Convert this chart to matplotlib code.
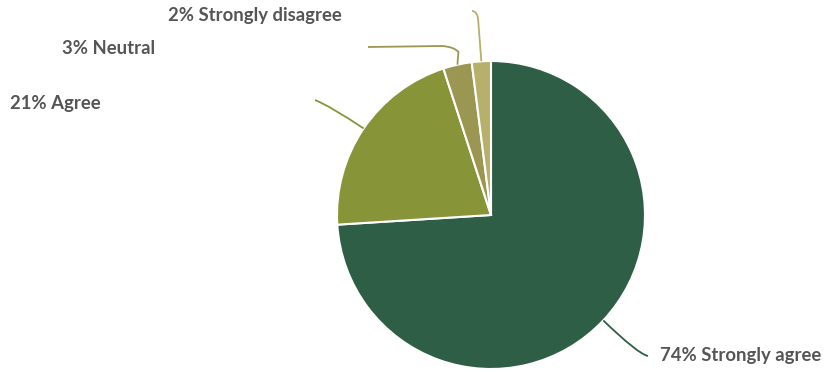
import numpy as np
import matplotlib.pyplot as plt
from matplotlib.path import Path
from matplotlib.patches import PathPatch

# Survey responses
labels = ['Strongly agree', 'Agree', 'Neutral', 'Strongly disagree']
shares = [74, 21, 3, 2]
colors = ['#2e5e46', '#889438', '#9b9651', '#b7b06b']

W, H = 825, 372
fig = plt.figure(figsize=(W / 100, H / 100), dpi=100)
ax = fig.add_axes([0, 0, 1, 1])

cx, cy, r = 491, H - 215, 154
wedges, _ = ax.pie(shares, colors=colors, startangle=90, counterclock=False,
                   center=(cx, cy), radius=r, frame=True,
                   wedgeprops=dict(edgecolor='white', linewidth=1.5))
ax.set_xlim(0, W)
ax.set_ylim(0, H)
ax.set_aspect('equal')
ax.axis('off')

# label layout: (knee, line end, text x, text y) in pixel coords (y down)
layout = [
    ((638, 354), (648, 356), 660, 356),
    ((330, 106), (315, 100), 10, 103),
    ((458, 47), (368, 47), 62, 48),
    ((478, 11), (472, 11), 168, 16),
]

for w, lab, val, col, (knee, end, tx, ty) in zip(wedges, labels, shares, colors, layout):
    mid = np.deg2rad((w.theta1 + w.theta2) / 2)
    sx, sy = cx + r * np.cos(mid), cy + r * np.sin(mid)
    kx, ky = knee[0], H - knee[1]
    ex, ey = end[0], H - end[1]
    if lab == 'Neutral':
        verts = [(sx, sy), (sx + 1, H - 52), (sx - 3, ky), (sx - 15, ky + 1), (ex, ey)]
        codes = [Path.MOVETO, Path.LINETO, Path.CURVE3, Path.CURVE3, Path.LINETO]
    elif lab == 'Strongly disagree':
        verts = [(sx, sy), (sx - 3, H - 22), (kx, ky), (ex, ey)]
        codes = [Path.MOVETO, Path.LINETO, Path.CURVE3, Path.CURVE3]
    else:
        verts = [(sx, sy), (kx, ky), (ex, ey)]
        codes = [Path.MOVETO, Path.CURVE3, Path.CURVE3]
    ax.add_patch(PathPatch(Path(verts, codes), facecolor='none',
                           edgecolor=col, linewidth=1.3))
    ax.text(tx, H - ty, f'{val}% {lab}', ha='left', va='center',
            fontsize=13.3, fontweight='bold', color='#555555', family='Lato')

fig.savefig('out.png', dpi=100)
